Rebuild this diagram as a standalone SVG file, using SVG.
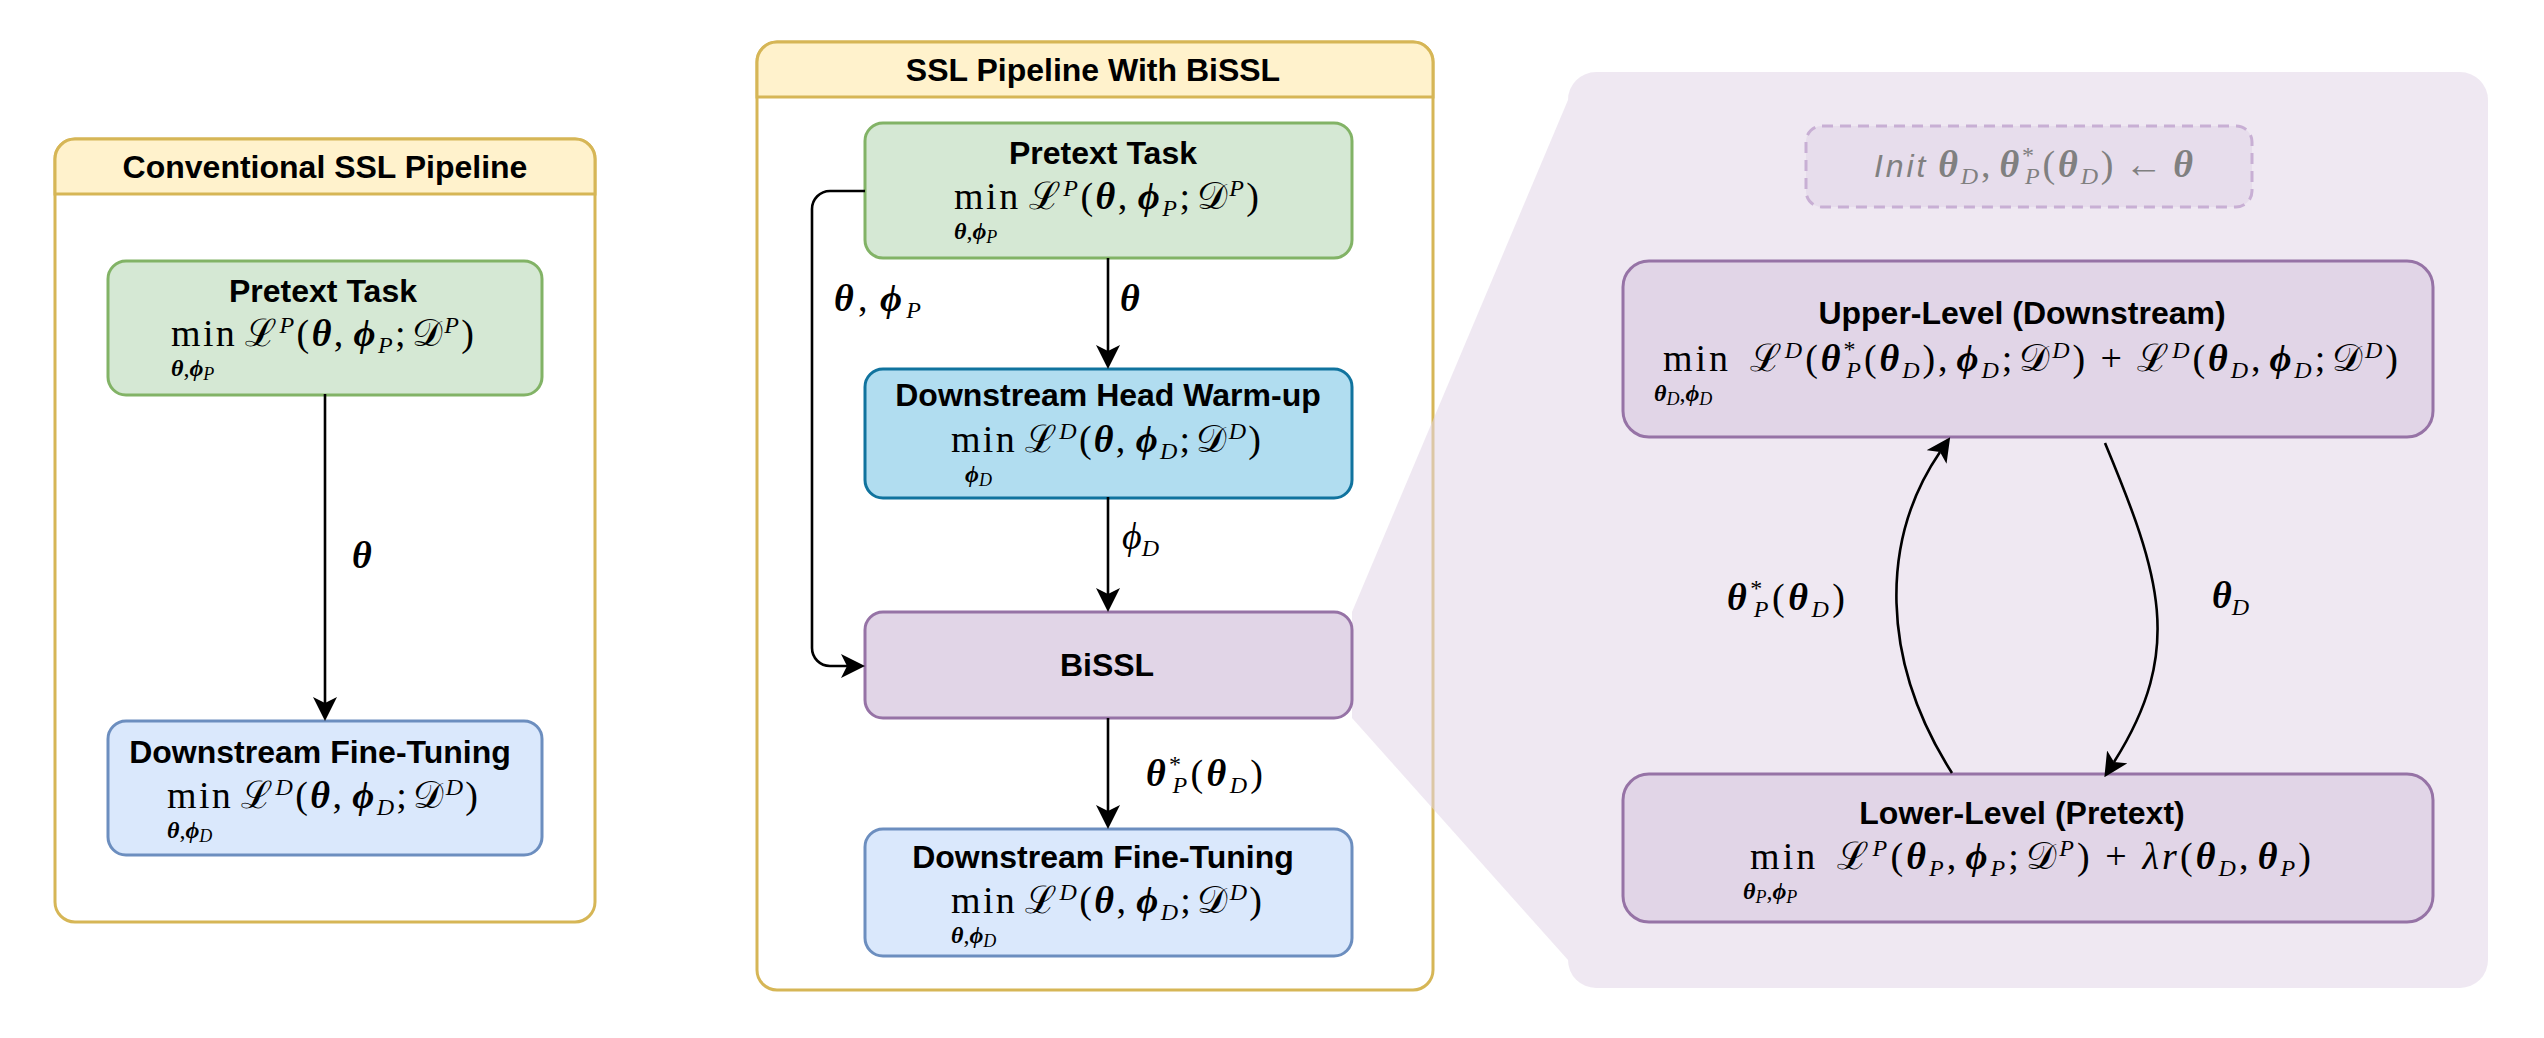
<svg xmlns="http://www.w3.org/2000/svg" width="2544" height="1038" viewBox="0 0 2544 1038">
<defs>
<style>
.t{font-family:"Liberation Sans",Arial,sans-serif;font-weight:bold;font-style:normal;font-size:32px;text-anchor:middle;fill:#000}
.m{font-family:"Liberation Serif","DejaVu Serif",serif;font-size:38px;fill:#000}
.bi{font-weight:bold;font-style:italic}
.it{font-style:italic}
.sm{font-size:24px}
.ss{font-size:24px}
.xs{font-size:18px;font-style:italic}
.g{fill:#808080}
.hdr{fill:#fff2cc;stroke:#d6b656;stroke-width:3}
.cont{fill:#fff;stroke:#d6b656;stroke-width:3}
.green{fill:#d5e8d4;stroke:#82b366;stroke-width:3}
.blue{fill:#dae8fc;stroke:#6c8ebf;stroke-width:3}
.cyan{fill:#b1ddf0;stroke:#10739e;stroke-width:3}
.purple{fill:#e1d5e7;stroke:#9673a6;stroke-width:3}
.edge{fill:none;stroke:#000;stroke-width:2.6;marker-end:url(#ah)}
</style>
<marker id="ah" markerUnits="userSpaceOnUse" viewBox="0 0 24 24" refX="6" refY="12" markerWidth="24" markerHeight="24" orient="auto">
<path d="M0,0 L24,12 L0,24 L6,12 Z" fill="#000"/>
</marker>
</defs>
<rect width="2544" height="1038" fill="#fff"/>

<g id="conventional-pipeline">
<rect class="cont" x="55" y="139" width="540" height="783" rx="20"/>
<path class="hdr" d="M55,194 V159 A20,20 0 0 1 75,139 H575 A20,20 0 0 1 595,159 V194 Z"/>
<text class="t" x="325" y="178">Conventional SSL Pipeline</text>
</g>

<g id="bissl-pipeline">
<rect class="cont" x="757" y="42" width="676" height="948" rx="20"/>
<path class="hdr" d="M757,97 V62 A20,20 0 0 1 777,42 H1413 A20,20 0 0 1 1433,62 V97 Z"/>
<text class="t" x="1093" y="81">SSL Pipeline With BiSSL</text>
</g>

<g id="bissl-zoom-panel">
<path d="M1352,612 L1568,100 A28,28 0 0 1 1596,72 H2460 A28,28 0 0 1 2488,100 V960 A28,28 0 0 1 2460,988 H1596 A28,28 0 0 1 1568,960 L1352,718 Z" fill="#e1d5e7" fill-opacity="0.55"/>
</g>

<g id="conv-pretext">
<rect class="green" x="108" y="261" width="434" height="134" rx="18"/>
<text class="t" x="323" y="302">Pretext Task</text>
<text class="m" x="171" y="346" textLength="303" lengthAdjust="spacing">min<tspan dx="8">ℒ</tspan><tspan class="sm it" dy="-13">P</tspan><tspan dy="13">(</tspan><tspan class="bi">θ</tspan>,<tspan class="bi" dx="8">ϕ</tspan><tspan class="sm it" dy="7">P</tspan><tspan dy="-7">;</tspan><tspan dx="4">𝒟</tspan><tspan class="sm it" dy="-13">P</tspan><tspan dy="13">)</tspan></text>
<text class="m ss" x="171" y="376"><tspan class="bi">θ</tspan>,<tspan class="bi">ϕ</tspan><tspan class="xs" dy="4">P</tspan></text>
</g>

<g id="conv-finetune">
<rect class="blue" x="108" y="721" width="434" height="134" rx="18"/>
<text class="t" x="320" y="763">Downstream Fine-Tuning</text>
<text class="m" x="167" y="808" textLength="311" lengthAdjust="spacing">min<tspan dx="8">ℒ</tspan><tspan class="sm it" dy="-13">D</tspan><tspan dy="13">(</tspan><tspan class="bi">θ</tspan>,<tspan class="bi" dx="8">ϕ</tspan><tspan class="sm it" dy="7">D</tspan><tspan dy="-7">;</tspan><tspan dx="4">𝒟</tspan><tspan class="sm it" dy="-13">D</tspan><tspan dy="13">)</tspan></text>
<text class="m ss" x="167" y="838"><tspan class="bi">θ</tspan>,<tspan class="bi">ϕ</tspan><tspan class="xs" dy="4">D</tspan></text>
</g>

<g id="bissl-pretext">
<rect class="green" x="865" y="123" width="487" height="135" rx="18"/>
<text class="t" x="1103" y="164">Pretext Task</text>
<text class="m" x="954" y="209" textLength="305" lengthAdjust="spacing">min<tspan dx="8">ℒ</tspan><tspan class="sm it" dy="-13">P</tspan><tspan dy="13">(</tspan><tspan class="bi">θ</tspan>,<tspan class="bi" dx="8">ϕ</tspan><tspan class="sm it" dy="7">P</tspan><tspan dy="-7">;</tspan><tspan dx="4">𝒟</tspan><tspan class="sm it" dy="-13">P</tspan><tspan dy="13">)</tspan></text>
<text class="m ss" x="954" y="239"><tspan class="bi">θ</tspan>,<tspan class="bi">ϕ</tspan><tspan class="xs" dy="4">P</tspan></text>
</g>

<g id="bissl-warmup">
<rect class="cyan" x="865" y="369" width="487" height="129" rx="18"/>
<text class="t" x="1108" y="406">Downstream Head Warm-up</text>
<text class="m" x="951" y="452" textLength="310" lengthAdjust="spacing">min<tspan dx="8">ℒ</tspan><tspan class="sm it" dy="-13">D</tspan><tspan dy="13">(</tspan><tspan class="bi">θ</tspan>,<tspan class="bi" dx="8">ϕ</tspan><tspan class="sm it" dy="7">D</tspan><tspan dy="-7">;</tspan><tspan dx="4">𝒟</tspan><tspan class="sm it" dy="-13">D</tspan><tspan dy="13">)</tspan></text>
<text class="m ss" x="965" y="482"><tspan class="bi">ϕ</tspan><tspan class="xs" dy="4">D</tspan></text>
</g>

<g id="bissl-core">
<rect class="purple" x="865" y="612" width="487" height="106" rx="18"/>
<text class="t" x="1107" y="676">BiSSL</text>
</g>

<g id="bissl-finetune">
<rect class="blue" x="865" y="829" width="487" height="127" rx="18"/>
<text class="t" x="1103" y="868">Downstream Fine-Tuning</text>
<text class="m" x="951" y="913" textLength="311" lengthAdjust="spacing">min<tspan dx="8">ℒ</tspan><tspan class="sm it" dy="-13">D</tspan><tspan dy="13">(</tspan><tspan class="bi">θ</tspan>,<tspan class="bi" dx="8">ϕ</tspan><tspan class="sm it" dy="7">D</tspan><tspan dy="-7">;</tspan><tspan dx="4">𝒟</tspan><tspan class="sm it" dy="-13">D</tspan><tspan dy="13">)</tspan></text>
<text class="m ss" x="951" y="943"><tspan class="bi">θ</tspan>,<tspan class="bi">ϕ</tspan><tspan class="xs" dy="4">D</tspan></text>
</g>

<g id="init">
<rect x="1806" y="126" width="446" height="81" rx="16" fill="#e1d5e7" fill-opacity="0.6" stroke="#c8afd4" stroke-width="3" stroke-dasharray="11 7"/>
<text class="m g" x="1874" y="177" textLength="319" lengthAdjust="spacing"><tspan font-family="'Liberation Sans',Arial,sans-serif" font-style="italic" font-size="32">Init</tspan><tspan class="bi" dx="10">θ</tspan><tspan class="sm it" dy="7">D</tspan><tspan dy="-7">,</tspan><tspan class="bi" dx="6">θ</tspan><tspan class="sm" dy="-14">*</tspan><tspan class="sm it" dx="-12" dy="21">P</tspan><tspan dy="-7">(</tspan><tspan class="bi">θ</tspan><tspan class="sm it" dy="7">D</tspan><tspan dy="-7">)</tspan><tspan dx="8">←</tspan><tspan class="bi" dx="8">θ</tspan></text>
</g>

<g id="upper-level">
<rect class="purple" x="1623" y="261" width="810" height="176" rx="26"/>
<text class="t" x="2022" y="324">Upper-Level (Downstream)</text>
<text class="m" x="1663" y="371" textLength="735" lengthAdjust="spacing">min<tspan dx="19">ℒ</tspan><tspan class="sm it" dy="-13">D</tspan><tspan dy="13">(</tspan><tspan class="bi">θ</tspan><tspan class="sm" dy="-14">*</tspan><tspan class="sm it" dx="-12" dy="21">P</tspan><tspan dy="-7">(</tspan><tspan class="bi">θ</tspan><tspan class="sm it" dy="7">D</tspan><tspan dy="-7">),</tspan><tspan class="bi" dx="6">ϕ</tspan><tspan class="sm it" dy="7">D</tspan><tspan dy="-7">;</tspan><tspan dx="4">𝒟</tspan><tspan class="sm it" dy="-13">D</tspan><tspan dy="13">) + ℒ</tspan><tspan class="sm it" dy="-13">D</tspan><tspan dy="13">(</tspan><tspan class="bi">θ</tspan><tspan class="sm it" dy="7">D</tspan><tspan dy="-7">,</tspan><tspan class="bi" dx="6">ϕ</tspan><tspan class="sm it" dy="7">D</tspan><tspan dy="-7">;</tspan><tspan dx="4">𝒟</tspan><tspan class="sm it" dy="-13">D</tspan><tspan dy="13">)</tspan></text>
<text class="m ss" x="1654" y="401"><tspan class="bi">θ</tspan><tspan class="xs" dy="4">D</tspan><tspan dy="-4">,</tspan><tspan class="bi">ϕ</tspan><tspan class="xs" dy="4">D</tspan></text>
</g>

<g id="lower-level">
<rect class="purple" x="1623" y="774" width="810" height="148" rx="26"/>
<text class="t" x="2022" y="824">Lower-Level (Pretext)</text>
<text class="m" x="1750" y="869" textLength="561" lengthAdjust="spacing">min<tspan dx="19">ℒ</tspan><tspan class="sm it" dy="-13">P</tspan><tspan dy="13">(</tspan><tspan class="bi">θ</tspan><tspan class="sm it" dy="7">P</tspan><tspan dy="-7">,</tspan><tspan class="bi" dx="6">ϕ</tspan><tspan class="sm it" dy="7">P</tspan><tspan dy="-7">;</tspan><tspan dx="4">𝒟</tspan><tspan class="sm it" dy="-13">P</tspan><tspan dy="13">) + </tspan><tspan class="it">λr</tspan>(<tspan class="bi">θ</tspan><tspan class="sm it" dy="7">D</tspan><tspan dy="-7">,</tspan><tspan class="bi" dx="6">θ</tspan><tspan class="sm it" dy="7">P</tspan><tspan dy="-7">)</tspan></text>
<text class="m ss" x="1743" y="899"><tspan class="bi">θ</tspan><tspan class="xs" dy="4">P</tspan><tspan dy="-4">,</tspan><tspan class="bi">ϕ</tspan><tspan class="xs" dy="4">P</tspan></text>
</g>

<g id="connectors">
<path class="edge" d="M325,394 V703"/>
<path class="edge" d="M1108,258 V351"/>
<path class="edge" d="M1108,497 V594"/>
<path class="edge" d="M1108,718 V811"/>
<path class="edge" d="M865,191 H830 A18,18 0 0 0 812,209 V648 A18,18 0 0 0 830,666 H847"/>
<path class="edge" d="M1952,773 C1880,660 1880,540 1940,452"/>
<path class="edge" d="M2105,443 C2160,575 2185,650 2114,762"/>
<text class="m bi" x="352" y="568">θ</text>
<text class="m" x="834" y="311" textLength="87" lengthAdjust="spacing"><tspan class="bi">θ</tspan>,<tspan class="bi" dx="8">ϕ</tspan><tspan class="sm it" dy="7">P</tspan></text>
<text class="m bi" x="1120" y="311">θ</text>
<text class="m" x="1122" y="549"><tspan class="it">ϕ</tspan><tspan class="sm it" dy="7">D</tspan></text>
<text class="m" x="1146" y="786" textLength="117" lengthAdjust="spacing"><tspan class="bi">θ</tspan><tspan class="sm" dy="-14">*</tspan><tspan class="sm it" dx="-12" dy="21">P</tspan><tspan dy="-7">(</tspan><tspan class="bi">θ</tspan><tspan class="sm it" dy="7">D</tspan><tspan dy="-7">)</tspan></text>
<text class="m" x="1727" y="610" textLength="118" lengthAdjust="spacing"><tspan class="bi">θ</tspan><tspan class="sm" dy="-14">*</tspan><tspan class="sm it" dx="-12" dy="21">P</tspan><tspan dy="-7">(</tspan><tspan class="bi">θ</tspan><tspan class="sm it" dy="7">D</tspan><tspan dy="-7">)</tspan></text>
<text class="m" x="2212" y="608"><tspan class="bi">θ</tspan><tspan class="sm it" dy="7">D</tspan></text>
</g>
</svg>
